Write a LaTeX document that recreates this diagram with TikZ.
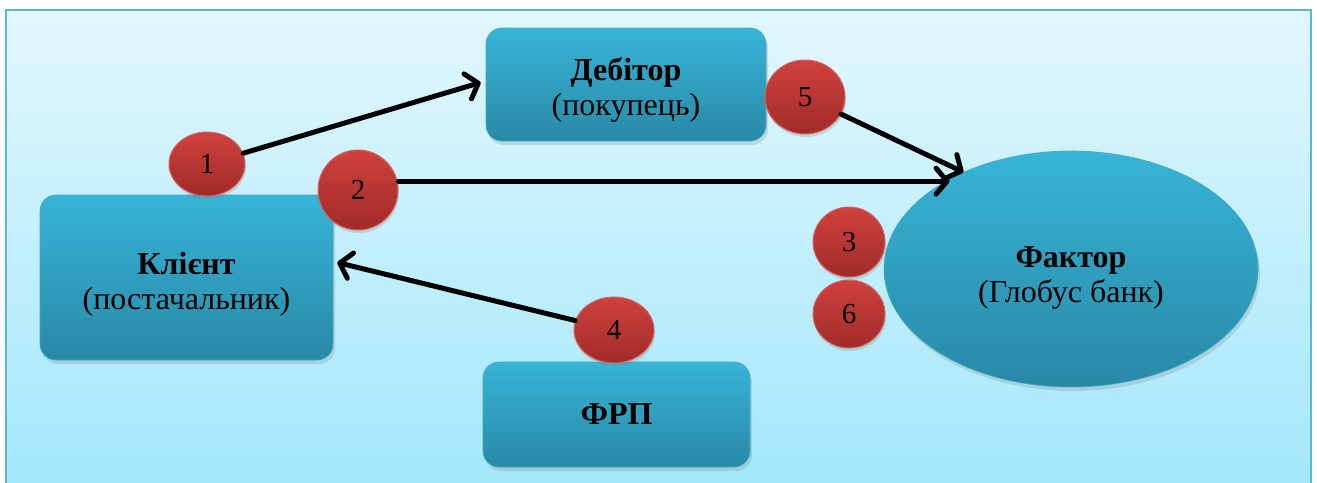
\documentclass[tikz,border=0pt]{standalone}
\usepackage{fontspec}
\setmainfont{Liberation Serif}
\usetikzlibrary{shapes.geometric,shadows,arrows.meta}
\definecolor{bgtop}{HTML}{E2F7FE}
\definecolor{bgbot}{HTML}{A2E7FB}
\definecolor{bgedge}{HTML}{5BB8D3}
\definecolor{boxtop}{HTML}{37B4D7}
\definecolor{boxbot}{HTML}{2989A6}
\definecolor{boxedge}{HTML}{3AA9C8}
\definecolor{redtop}{HTML}{D0413D}
\definecolor{redbot}{HTML}{A02B29}
\definecolor{rededge}{HTML}{D8625C}
\newcommand\topstrut{\rule{0pt}{34pt}}
\tikzset{
  bluebox/.style={rectangle, rounded corners=16pt, top color=boxtop, bottom color=boxbot,
    draw=boxedge, line width=0.6pt, align=center, inner sep=0pt,
    drop shadow={shadow xshift=2pt, shadow yshift=-4pt, opacity=0.25},
    font=\fontsize{32}{35}\selectfont},
  blueell/.style={ellipse, top color=boxtop, bottom color=boxbot,
    draw=boxedge, line width=0.6pt, align=center, inner sep=0pt,
    drop shadow={shadow xshift=2pt, shadow yshift=-4pt, opacity=0.25},
    font=\fontsize{32}{35}\selectfont},
  numdot/.style={ellipse, top color=redtop, bottom color=redbot, draw=rededge,
    line width=1pt, inner sep=0pt,
    drop shadow={shadow xshift=1pt, shadow yshift=-3pt, opacity=0.25},
    font=\fontsize{29}{32}\selectfont},
  arr/.style={line width=5pt, line cap=round,
    -{Straight Barb[length=11pt,width=26pt,round]}}
}
\begin{document}
\begin{tikzpicture}[x=1pt,y=-1pt]
\useasboundingbox (0,0) rectangle (1317,482);
\fill[white] (0,0) rectangle (1317,482);
\shade[top color=bgtop, bottom color=bgbot] (6,10) rectangle (1311,492);
\draw[bgedge, line width=1.5pt] (6,492) -- (6,10) -- (1311,10) -- (1311,492);

\node[bluebox, minimum width=280pt, minimum height=113pt] (deb) at (626,84.5)
  {\topstrut\textbf{Дебітор}\\(покупець)};
\node[bluebox, minimum width=293pt, minimum height=165pt] (cli) at (186.5,277.5)
  {\rule{0pt}{36pt}\textbf{Клієнт}\\(постачальник)};
\node[bluebox, minimum width=267pt, minimum height=105pt] (frp) at (616.5,414.5)
  {\textbf{ФРП}};
\node[blueell, minimum width=374pt, minimum height=236pt] (fac) at (1071,269)
  {\rule{0pt}{38pt}\textbf{Фактор}\\(Глобус банк)};

\node[numdot, minimum width=76pt, minimum height=64pt] (c1) at (207,164) {1};
\node[numdot, minimum width=80pt, minimum height=80pt] (c2) at (358,190) {2};
\node[numdot, minimum width=72pt, minimum height=70pt] (c3) at (849,242) {3};
\node[numdot, minimum width=80pt, minimum height=66pt] (c4) at (614,330) {4};
\node[numdot, minimum width=80pt, minimum height=74pt] (c5) at (805,97) {5};
\node[numdot, minimum width=72pt, minimum height=68pt] (c6) at (849,314) {6};

\draw[arr] (c1) -- ([xshift=-5pt,yshift=2pt]deb.west);
\draw[arr] (c2.east |- fac.145) -- ([xshift=4pt]fac.145);
\draw[arr] (c5) -- (fac.138);
\draw[arr] (c4) -- ([shift={(4pt,15pt)}]cli.east);
\end{tikzpicture}
\end{document}
